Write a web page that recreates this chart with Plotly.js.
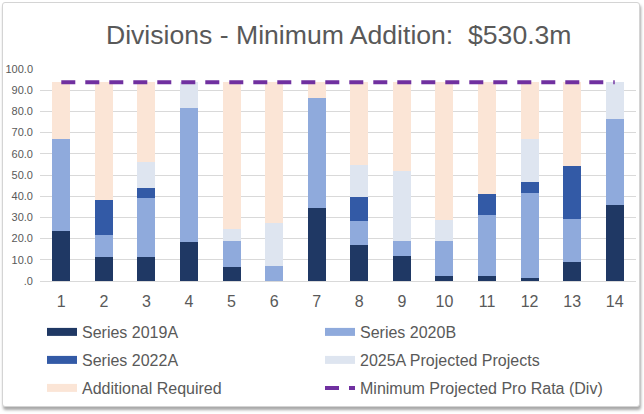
<!DOCTYPE html>
<html>
<head>
<meta charset="utf-8">
<script src="https://cdn.plot.ly/plotly-3.0.1.min.js"></script>
<style>
  html, body { margin: 0; padding: 0; background: #ffffff; }
  #frame { position: absolute; left: 2px; top: 2px; width: 636px; height: 403px;
           border: 1px solid #d4d4d4; border-radius: 3px;
           box-shadow: 1px 3px 3px rgba(0,0,0,0.35); background: #fff; }
  #chart { position: absolute; left: 0; top: 0; width: 644px; height: 414px; }
</style>
</head>
<body>
<div id="frame"></div>
<div id="chart"></div>
<script>
const categories = ['1','2','3','4','5','6','7','8','9','10','11','12','13','14'];
const series2019A = [23.6, 11.2, 11.2, 18.2, 6.5, 0, 34.3, 17.2, 12.0, 2.2, 2.2, 1.3, 8.9, 35.9];
const series2020B = [43.2, 10.3, 27.8, 63.5, 12.3, 7.0, 52.0, 10.9, 7.1, 16.5, 28.8, 40.1, 20.2, 40.6];
const series2022A = [0, 16.6, 4.8, 0, 0, 0, 0, 11.4, 0, 0, 9.9, 5.2, 25.1, 0];
const projected2025A = [0, 0, 12.3, 12.0, 5.6, 20.2, 0, 15.2, 32.7, 10.1, 0, 20.2, 0, 17.2];
const additionalRequired = [26.9, 55.6, 37.6, 0, 69.3, 66.5, 7.4, 39.0, 41.9, 64.9, 52.8, 26.9, 39.5, 0];
const minProRata = [93.8, 93.8, 93.8, 93.8, 93.8, 93.8, 93.8, 93.8, 93.8, 93.8, 93.8, 93.8, 93.8, 93.8];
const yTickVals = [0, 10, 20, 30, 40, 50, 60, 70, 80, 90, 100];
const yTickText = ['.0', '10.0', '20.0', '30.0', '40.0', '50.0', '60.0', '70.0', '80.0', '90.0', '100.0'];

const barSeries = [
  {name: 'Series 2019A', y: series2019A, color: '#1F3864', legend: 'legend'},
  {name: 'Series 2020B', y: series2020B, color: '#8FAADC', legend: 'legend'},
  {name: 'Series 2022A', y: series2022A, color: '#335AA6', legend: 'legend2'},
  {name: '2025A Projected Projects', y: projected2025A, color: '#DEE5F0', legend: 'legend2'},
  {name: 'Additional Required', y: additionalRequired, color: '#FBE5D6', legend: 'legend3'}
];

const traces = [];
barSeries.forEach(s => {
  traces.push({type: 'bar', x: categories, y: s.y, name: s.name,
    marker: {color: s.color, line: {width: 0}}, showlegend: false, hoverinfo: 'skip'});
});
// legend proxies (wide flat swatches like the reference)
barSeries.forEach(s => {
  traces.push({type: 'scatter', mode: 'lines', x: [categories[0]], y: [null], name: s.name,
    legend: s.legend, line: {color: s.color, width: 8}, hoverinfo: 'skip'});
});
traces.push({type: 'scatter', mode: 'lines', x: categories, y: minProRata,
  name: 'Minimum Projected Pro Rata (Div)', legend: 'legend4',
  line: {color: '#7030A0', width: 4, dash: '14px,10px'}, hoverinfo: 'skip'});

const font = 'Liberation Sans, Arial, sans-serif';
function legendRow(yPx, xPx, ew) {
  const o = {orientation: 'h', x: (xPx - 40) / 596, xanchor: 'left', y: (281 - yPx) / 212, yanchor: 'middle',
    font: {size: 16, color: '#595959'},
    bgcolor: 'rgba(0,0,0,0)', traceorder: 'normal', borderwidth: 0};
  if (ew) { o.entrywidth = ew; o.entrywidthmode = 'pixels'; }
  return o;
}
const layout = {
  width: 644, height: 414,
  paper_bgcolor: 'rgba(0,0,0,0)', plot_bgcolor: 'rgba(0,0,0,0)',
  margin: {l: 40, r: 8, t: 69, b: 133},
  barmode: 'stack', bargap: 0.58,
  font: {family: font, color: '#595959'},
  title: {text: 'Divisions - Minimum Addition:  $530.3m', font: {family: font, size: 26.6, color: '#595959'},
    xref: 'container', yref: 'container', x: 0.526, xanchor: 'center', y: 1 - 35/414, yanchor: 'middle'},
  xaxis: {type: 'category', showgrid: false, showline: true, linecolor: '#d9d9d9', linewidth: 1,
    ticks: '', tickfont: {size: 16, color: '#595959'}, ticklabelstandoff: 6, fixedrange: true},
  yaxis: {range: [0, 100], tickvals: yTickVals, ticktext: yTickText, showgrid: true,
    gridcolor: '#d9d9d9', gridwidth: 1, zeroline: false, showline: false, ticks: '',
    tickfont: {size: 11, color: '#595959'}, ticklabelstandoff: 6, fixedrange: true},
  showlegend: true,
  legend: legendRow(332, 42, 233),
  legend2: legendRow(360, 42, 233),
  legend3: legendRow(388, 42, 0),
  legend4: legendRow(388, 320, 0)
};

Plotly.newPlot('chart', traces, layout, {displayModeBar: false, staticPlot: true});
</script>
</body>
</html>
